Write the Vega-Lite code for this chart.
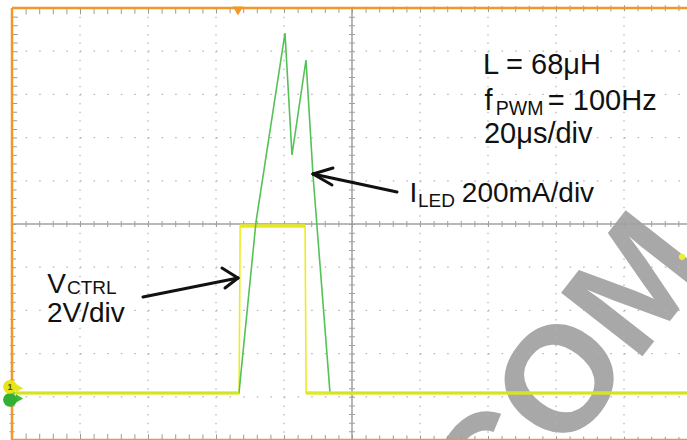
{
  "$schema": "https://vega.github.io/schema/vega-lite/v6.json",
  "width": 687,
  "height": 440,
  "padding": 0,
  "autosize": {"type": "none"},
  "background": "white",
  "config": {"view": {"stroke": null}, "legend": {"disable": true}},
  "datasets": {
    "lines": [
      {"kind": "gv", "t": 20, "t2": 20, "d": 5, "d2": -5},
      {"kind": "gv", "t": 40, "t2": 40, "d": 5, "d2": -5},
      {"kind": "gv", "t": 60, "t2": 60, "d": 5, "d2": -5},
      {"kind": "gv", "t": 80, "t2": 80, "d": 5, "d2": -5},
      {"kind": "gv", "t": 120, "t2": 120, "d": 5, "d2": -5},
      {"kind": "gv", "t": 140, "t2": 140, "d": 5, "d2": -5},
      {"kind": "gv", "t": 160, "t2": 160, "d": 5, "d2": -5},
      {"kind": "gv", "t": 180, "t2": 180, "d": 5, "d2": -5},
      {"kind": "gh", "t": 0, "t2": 200, "d": 4, "d2": 4},
      {"kind": "gh", "t": 0, "t2": 200, "d": 3, "d2": 3},
      {"kind": "gh", "t": 0, "t2": 200, "d": 2, "d2": 2},
      {"kind": "gh", "t": 0, "t2": 200, "d": 1, "d2": 1},
      {"kind": "gh", "t": 0, "t2": 200, "d": -1, "d2": -1},
      {"kind": "gh", "t": 0, "t2": 200, "d": -2, "d2": -2},
      {"kind": "gh", "t": 0, "t2": 200, "d": -3, "d2": -3},
      {"kind": "gh", "t": 0, "t2": 200, "d": -4, "d2": -4},
      {"kind": "cv", "t": 100, "t2": 100, "d": 5, "d2": -5},
      {"kind": "chz", "t": 0, "t2": 200, "d": 0, "d2": 0},
      {"kind": "bl", "t": 0, "t2": 0, "d": 5, "d2": -5},
      {"kind": "bt", "t": 0, "t2": 200, "d": 5, "d2": 5},
      {"kind": "bb", "t": 0, "t2": 200, "d": -5, "d2": -5},
      {"kind": "arrow", "t": 113.24, "t2": 88.53, "d": 0.74, "d2": 1.157},
      {"kind": "arrow", "t": 88.53, "t2": 94.41, "d": 1.157, "d2": 1.296},
      {"kind": "arrow", "t": 88.53, "t2": 94.12, "d": 1.157, "d2": 0.903},
      {"kind": "arrow", "t": 38.53, "t2": 66.47, "d": -1.69, "d2": -1.25},
      {"kind": "arrow", "t": 66.47, "t2": 61.76, "d": -1.25, "d2": -1.019},
      {"kind": "arrow", "t": 66.47, "t2": 62.65, "d": -1.25, "d2": -1.481}
    ],
    "traces": [
      {"ch": "VCTRL", "t": 0, "d": -3.91},
      {"ch": "VCTRL", "t": 66.8, "d": -3.91},
      {"ch": "VCTRL", "t": 67.1, "d": -0.046},
      {"ch": "VCTRL", "t": 86.2, "d": -0.046},
      {"ch": "VCTRL", "t": 86.5, "d": -3.91},
      {"ch": "VCTRL", "t": 198.53, "d": -3.91},
      {"ch": "ILED", "t": 0, "d": -3.91},
      {"ch": "ILED", "t": 66.76, "d": -3.91},
      {"ch": "ILED", "t": 71.76, "d": 0.046},
      {"ch": "ILED", "t": 80.29, "d": 4.421},
      {"ch": "ILED", "t": 82.35, "d": 1.597},
      {"ch": "ILED", "t": 86.47, "d": 3.796},
      {"ch": "ILED", "t": 88.53, "d": 1.134},
      {"ch": "ILED", "t": 93.53, "d": -3.91},
      {"ch": "ILED", "t": 198.53, "d": -3.91}
    ],
    "bands": [
      {"kind": "top", "t": 67.1, "t2": 86.2, "d": -0.046},
      {"kind": "base", "t": 0.8, "t2": 66.8, "d": -3.91},
      {"kind": "base", "t": 86.5, "t2": 198.53, "d": -3.91}
    ],
    "labels": [
      {"kind": "big", "t": 138.5, "d": 3.47, "text": "L = 68μH"},
      {"kind": "big", "t": 139.0, "d": 2.64, "text": "f"},
      {"kind": "bigsub", "t": 142.3, "d": 2.52, "text": "PWM"},
      {"kind": "big", "t": 157.6, "d": 2.64, "text": "= 100Hz"},
      {"kind": "big", "t": 138.8, "d": 1.87, "text": "20μs/div"},
      {"kind": "main", "t": 116.9, "d": 0.51, "text": "I"},
      {"kind": "sub", "t": 119.41, "d": 0.39, "text": "LED"},
      {"kind": "main", "t": 132.3, "d": 0.51, "text": "200mA/div"},
      {"kind": "main", "t": 10.4, "d": -1.6, "text": "V"},
      {"kind": "sub", "t": 16.18, "d": -1.62, "text": "CTRL"},
      {"kind": "main", "t": 10.3, "d": -2.27, "text": "2V/div"},
      {"kind": "tiny", "t": -0.59, "d": -3.77, "text": "1"}
    ],
    "marks": [
      {"kind": "ch1", "t": -0.59, "d": -3.77},
      {"kind": "ch2", "t": -0.59, "d": -4.07},
      {"kind": "p1", "t": 2.2, "d": -3.8},
      {"kind": "p2", "t": 2.2, "d": -4.04},
      {"kind": "trig", "t": 66.47, "d": 4.93},
      {"kind": "ref", "t": 197.06, "d": -0.76}
    ],
    "watermark": [
      {"t": 164.1, "d": -3.52, "text": "COM"}
    ]
  },
  "layer": [
    {
      "data": {"name": "watermark"},
      "mark": {"type": "text", "font": "Liberation Sans", "fontWeight": "bold", "fontSize": 150, "angle": -52, "align": "center", "baseline": "middle", "color": "#a8a8a8"},
      "encoding": {
        "x": {"field": "t", "type": "quantitative", "axis": null, "scale": {"domain": [-3.529, 198.53], "nice": false, "zero": false}},
        "y": {"field": "d", "type": "quantitative", "axis": null, "scale": {"domain": [-5, 5.185], "nice": false, "zero": false}},
        "text": {"field": "text"}
      }
    },
    {
      "data": {"name": "lines"},
      "transform": [{"filter": "datum.kind == 'gv'"}],
      "mark": {"type": "rule", "color": "#b4b4b4", "strokeWidth": 1.2, "strokeDash": [1.5, 7.14]},
      "encoding": {
        "x": {"field": "t", "type": "quantitative", "axis": null, "scale": {"domain": [-3.529, 198.53], "nice": false, "zero": false}},
        "x2": {"field": "t2"},
        "y": {"field": "d", "type": "quantitative", "axis": null, "scale": {"domain": [-5, 5.185], "nice": false, "zero": false}},
        "y2": {"field": "d2"}
      }
    },
    {
      "data": {"name": "lines"},
      "transform": [{"filter": "datum.kind == 'gh'"}],
      "mark": {"type": "rule", "color": "#b4b4b4", "strokeWidth": 1.2, "strokeDash": [1.5, 12.1]},
      "encoding": {
        "x": {"field": "t", "type": "quantitative", "axis": null, "scale": {"domain": [-3.529, 198.53], "nice": false, "zero": false}},
        "x2": {"field": "t2"},
        "y": {"field": "d", "type": "quantitative", "axis": null, "scale": {"domain": [-5, 5.185], "nice": false, "zero": false}},
        "y2": {"field": "d2"}
      }
    },
    {
      "data": {"name": "lines"},
      "transform": [{"filter": "datum.kind == 'cv' || datum.kind == 'chz'"}],
      "mark": {"type": "rule", "color": "#a0a0a0", "strokeWidth": 1.5},
      "encoding": {
        "x": {"field": "t", "type": "quantitative", "axis": null, "scale": {"domain": [-3.529, 198.53], "nice": false, "zero": false}},
        "x2": {"field": "t2"},
        "y": {"field": "d", "type": "quantitative", "axis": null, "scale": {"domain": [-5, 5.185], "nice": false, "zero": false}},
        "y2": {"field": "d2"}
      }
    },
    {
      "data": {"name": "lines"},
      "transform": [{"filter": "datum.kind == 'cv'"}],
      "mark": {"type": "rule", "color": "#a0a0a0", "strokeWidth": 6, "strokeDash": [1, 7.64]},
      "encoding": {
        "x": {"field": "t", "type": "quantitative", "axis": null, "scale": {"domain": [-3.529, 198.53], "nice": false, "zero": false}},
        "x2": {"field": "t2"},
        "y": {"field": "d", "type": "quantitative", "axis": null, "scale": {"domain": [-5, 5.185], "nice": false, "zero": false}},
        "y2": {"field": "d2"}
      }
    },
    {
      "data": {"name": "lines"},
      "transform": [{"filter": "datum.kind == 'chz'"}],
      "mark": {"type": "rule", "color": "#a0a0a0", "strokeWidth": 6, "strokeDash": [1, 12.6]},
      "encoding": {
        "x": {"field": "t", "type": "quantitative", "axis": null, "scale": {"domain": [-3.529, 198.53], "nice": false, "zero": false}},
        "x2": {"field": "t2"},
        "y": {"field": "d", "type": "quantitative", "axis": null, "scale": {"domain": [-5, 5.185], "nice": false, "zero": false}},
        "y2": {"field": "d2"}
      }
    },
    {
      "data": {"name": "lines"},
      "transform": [{"filter": "datum.kind == 'bl'"}],
      "mark": {"type": "rule", "color": "#9a9a9a", "strokeWidth": 5, "xOffset": 3.5, "strokeDash": [1, 7.64]},
      "encoding": {
        "x": {"field": "t", "type": "quantitative", "axis": null, "scale": {"domain": [-3.529, 198.53], "nice": false, "zero": false}},
        "x2": {"field": "t2"},
        "y": {"field": "d", "type": "quantitative", "axis": null, "scale": {"domain": [-5, 5.185], "nice": false, "zero": false}},
        "y2": {"field": "d2"}
      }
    },
    {
      "data": {"name": "lines"},
      "transform": [{"filter": "datum.kind == 'bt'"}],
      "mark": {"type": "rule", "color": "#9a9a9a", "strokeWidth": 6, "yOffset": 3.5, "strokeDash": [1, 12.6]},
      "encoding": {
        "x": {"field": "t", "type": "quantitative", "axis": null, "scale": {"domain": [-3.529, 198.53], "nice": false, "zero": false}},
        "x2": {"field": "t2"},
        "y": {"field": "d", "type": "quantitative", "axis": null, "scale": {"domain": [-5, 5.185], "nice": false, "zero": false}},
        "y2": {"field": "d2"}
      }
    },
    {
      "data": {"name": "lines"},
      "transform": [{"filter": "datum.kind == 'bb'"}],
      "mark": {"type": "rule", "color": "#9a9a9a", "strokeWidth": 6, "yOffset": -3.5, "strokeDash": [1, 12.6]},
      "encoding": {
        "x": {"field": "t", "type": "quantitative", "axis": null, "scale": {"domain": [-3.529, 198.53], "nice": false, "zero": false}},
        "x2": {"field": "t2"},
        "y": {"field": "d", "type": "quantitative", "axis": null, "scale": {"domain": [-5, 5.185], "nice": false, "zero": false}},
        "y2": {"field": "d2"}
      }
    },
    {
      "data": {"name": "lines"},
      "transform": [{"filter": "datum.kind == 'bl' || datum.kind == 'bt' || datum.kind == 'bb'"}],
      "mark": {"type": "rule", "color": "#f0992a", "strokeWidth": 2.5},
      "encoding": {
        "x": {"field": "t", "type": "quantitative", "axis": null, "scale": {"domain": [-3.529, 198.53], "nice": false, "zero": false}},
        "x2": {"field": "t2"},
        "y": {"field": "d", "type": "quantitative", "axis": null, "scale": {"domain": [-5, 5.185], "nice": false, "zero": false}},
        "y2": {"field": "d2"}
      }
    },
    {
      "data": {"name": "traces"},
      "transform": [{"filter": "datum.ch == 'VCTRL'"}],
      "mark": {"type": "line", "color": "#eded1e", "strokeWidth": 1.6},
      "encoding": {
        "x": {"field": "t", "type": "quantitative", "axis": null, "scale": {"domain": [-3.529, 198.53], "nice": false, "zero": false}},
        "y": {"field": "d", "type": "quantitative", "axis": null, "scale": {"domain": [-5, 5.185], "nice": false, "zero": false}}
      }
    },
    {
      "data": {"name": "bands"},
      "transform": [{"filter": "datum.kind == 'top'"}],
      "mark": {"type": "rule", "color": "#e8e820", "strokeWidth": 3.5},
      "encoding": {
        "x": {"field": "t", "type": "quantitative", "axis": null, "scale": {"domain": [-3.529, 198.53], "nice": false, "zero": false}},
        "x2": {"field": "t2"},
        "y": {"field": "d", "type": "quantitative", "axis": null, "scale": {"domain": [-5, 5.185], "nice": false, "zero": false}}
      }
    },
    {
      "data": {"name": "traces"},
      "transform": [{"filter": "datum.ch == 'ILED'"}],
      "mark": {"type": "line", "color": "#55c255", "strokeWidth": 1.6},
      "encoding": {
        "x": {"field": "t", "type": "quantitative", "axis": null, "scale": {"domain": [-3.529, 198.53], "nice": false, "zero": false}},
        "y": {"field": "d", "type": "quantitative", "axis": null, "scale": {"domain": [-5, 5.185], "nice": false, "zero": false}}
      }
    },
    {
      "data": {"name": "bands"},
      "transform": [{"filter": "datum.kind == 'base'"}],
      "mark": {"type": "rule", "color": "#dce826", "strokeWidth": 3.5, "opacity": 0.9},
      "encoding": {
        "x": {"field": "t", "type": "quantitative", "axis": null, "scale": {"domain": [-3.529, 198.53], "nice": false, "zero": false}},
        "x2": {"field": "t2"},
        "y": {"field": "d", "type": "quantitative", "axis": null, "scale": {"domain": [-5, 5.185], "nice": false, "zero": false}}
      }
    },
    {
      "data": {"name": "marks"},
      "transform": [{"filter": "datum.kind == 'p1' || datum.kind == 'p2'"}],
      "mark": {"type": "point", "shape": "triangle-right", "filled": true, "size": 70, "opacity": 1},
      "encoding": {
        "x": {"field": "t", "type": "quantitative", "axis": null, "scale": {"domain": [-3.529, 198.53], "nice": false, "zero": false}},
        "y": {"field": "d", "type": "quantitative", "axis": null, "scale": {"domain": [-5, 5.185], "nice": false, "zero": false}},
        "color": {"field": "kind", "type": "nominal", "scale": {"domain": ["p1", "p2"], "range": ["#e6e61e", "#3cb83c"]}, "legend": null}
      }
    },
    {
      "data": {"name": "marks"},
      "transform": [{"filter": "datum.kind == 'ch2'"}],
      "mark": {"type": "point", "shape": "circle", "filled": true, "size": 190, "color": "#33b033", "opacity": 1},
      "encoding": {
        "x": {"field": "t", "type": "quantitative", "axis": null, "scale": {"domain": [-3.529, 198.53], "nice": false, "zero": false}},
        "y": {"field": "d", "type": "quantitative", "axis": null, "scale": {"domain": [-5, 5.185], "nice": false, "zero": false}}
      }
    },
    {
      "data": {"name": "marks"},
      "transform": [{"filter": "datum.kind == 'ch1'"}],
      "mark": {"type": "point", "shape": "circle", "filled": true, "size": 190, "color": "#e8e41a", "opacity": 1},
      "encoding": {
        "x": {"field": "t", "type": "quantitative", "axis": null, "scale": {"domain": [-3.529, 198.53], "nice": false, "zero": false}},
        "y": {"field": "d", "type": "quantitative", "axis": null, "scale": {"domain": [-5, 5.185], "nice": false, "zero": false}}
      }
    },
    {
      "data": {"name": "marks"},
      "transform": [{"filter": "datum.kind == 'trig'"}],
      "mark": {"type": "point", "shape": "triangle-down", "filled": true, "size": 110, "color": "#f0992a", "opacity": 1},
      "encoding": {
        "x": {"field": "t", "type": "quantitative", "axis": null, "scale": {"domain": [-3.529, 198.53], "nice": false, "zero": false}},
        "y": {"field": "d", "type": "quantitative", "axis": null, "scale": {"domain": [-5, 5.185], "nice": false, "zero": false}}
      }
    },
    {
      "data": {"name": "marks"},
      "transform": [{"filter": "datum.kind == 'ref'"}],
      "mark": {"type": "point", "shape": "circle", "filled": true, "size": 40, "color": "#eeee30", "opacity": 1},
      "encoding": {
        "x": {"field": "t", "type": "quantitative", "axis": null, "scale": {"domain": [-3.529, 198.53], "nice": false, "zero": false}},
        "y": {"field": "d", "type": "quantitative", "axis": null, "scale": {"domain": [-5, 5.185], "nice": false, "zero": false}}
      }
    },
    {
      "data": {"name": "lines"},
      "transform": [{"filter": "datum.kind == 'arrow'"}],
      "mark": {"type": "rule", "color": "#111111", "strokeWidth": 3, "strokeCap": "round"},
      "encoding": {
        "x": {"field": "t", "type": "quantitative", "axis": null, "scale": {"domain": [-3.529, 198.53], "nice": false, "zero": false}},
        "x2": {"field": "t2"},
        "y": {"field": "d", "type": "quantitative", "axis": null, "scale": {"domain": [-5, 5.185], "nice": false, "zero": false}},
        "y2": {"field": "d2"}
      }
    },
    {
      "data": {"name": "labels"},
      "transform": [{"filter": "datum.kind == 'main'"}],
      "mark": {"type": "text", "font": "Liberation Sans", "fontSize": 28, "align": "left", "baseline": "alphabetic", "color": "#111111"},
      "encoding": {
        "x": {"field": "t", "type": "quantitative", "axis": null, "scale": {"domain": [-3.529, 198.53], "nice": false, "zero": false}},
        "y": {"field": "d", "type": "quantitative", "axis": null, "scale": {"domain": [-5, 5.185], "nice": false, "zero": false}},
        "text": {"field": "text"}
      }
    },
    {
      "data": {"name": "labels"},
      "transform": [{"filter": "datum.kind == 'big'"}],
      "mark": {"type": "text", "font": "Liberation Sans", "fontSize": 29, "align": "left", "baseline": "alphabetic", "color": "#111111"},
      "encoding": {
        "x": {"field": "t", "type": "quantitative", "axis": null, "scale": {"domain": [-3.529, 198.53], "nice": false, "zero": false}},
        "y": {"field": "d", "type": "quantitative", "axis": null, "scale": {"domain": [-5, 5.185], "nice": false, "zero": false}},
        "text": {"field": "text"}
      }
    },
    {
      "data": {"name": "labels"},
      "transform": [{"filter": "datum.kind == 'sub'"}],
      "mark": {"type": "text", "font": "Liberation Sans", "fontSize": 19, "align": "left", "baseline": "alphabetic", "color": "#111111"},
      "encoding": {
        "x": {"field": "t", "type": "quantitative", "axis": null, "scale": {"domain": [-3.529, 198.53], "nice": false, "zero": false}},
        "y": {"field": "d", "type": "quantitative", "axis": null, "scale": {"domain": [-5, 5.185], "nice": false, "zero": false}},
        "text": {"field": "text"}
      }
    },
    {
      "data": {"name": "labels"},
      "transform": [{"filter": "datum.kind == 'bigsub'"}],
      "mark": {"type": "text", "font": "Liberation Sans", "fontSize": 19.5, "align": "left", "baseline": "alphabetic", "color": "#111111"},
      "encoding": {
        "x": {"field": "t", "type": "quantitative", "axis": null, "scale": {"domain": [-3.529, 198.53], "nice": false, "zero": false}},
        "y": {"field": "d", "type": "quantitative", "axis": null, "scale": {"domain": [-5, 5.185], "nice": false, "zero": false}},
        "text": {"field": "text"}
      }
    },
    {
      "data": {"name": "labels"},
      "transform": [{"filter": "datum.kind == 'tiny'"}],
      "mark": {"type": "text", "font": "Liberation Sans", "fontSize": 9, "fontWeight": "bold", "align": "center", "baseline": "middle", "color": "#555500"},
      "encoding": {
        "x": {"field": "t", "type": "quantitative", "axis": null, "scale": {"domain": [-3.529, 198.53], "nice": false, "zero": false}},
        "y": {"field": "d", "type": "quantitative", "axis": null, "scale": {"domain": [-5, 5.185], "nice": false, "zero": false}},
        "text": {"field": "text"}
      }
    }
  ]
}
